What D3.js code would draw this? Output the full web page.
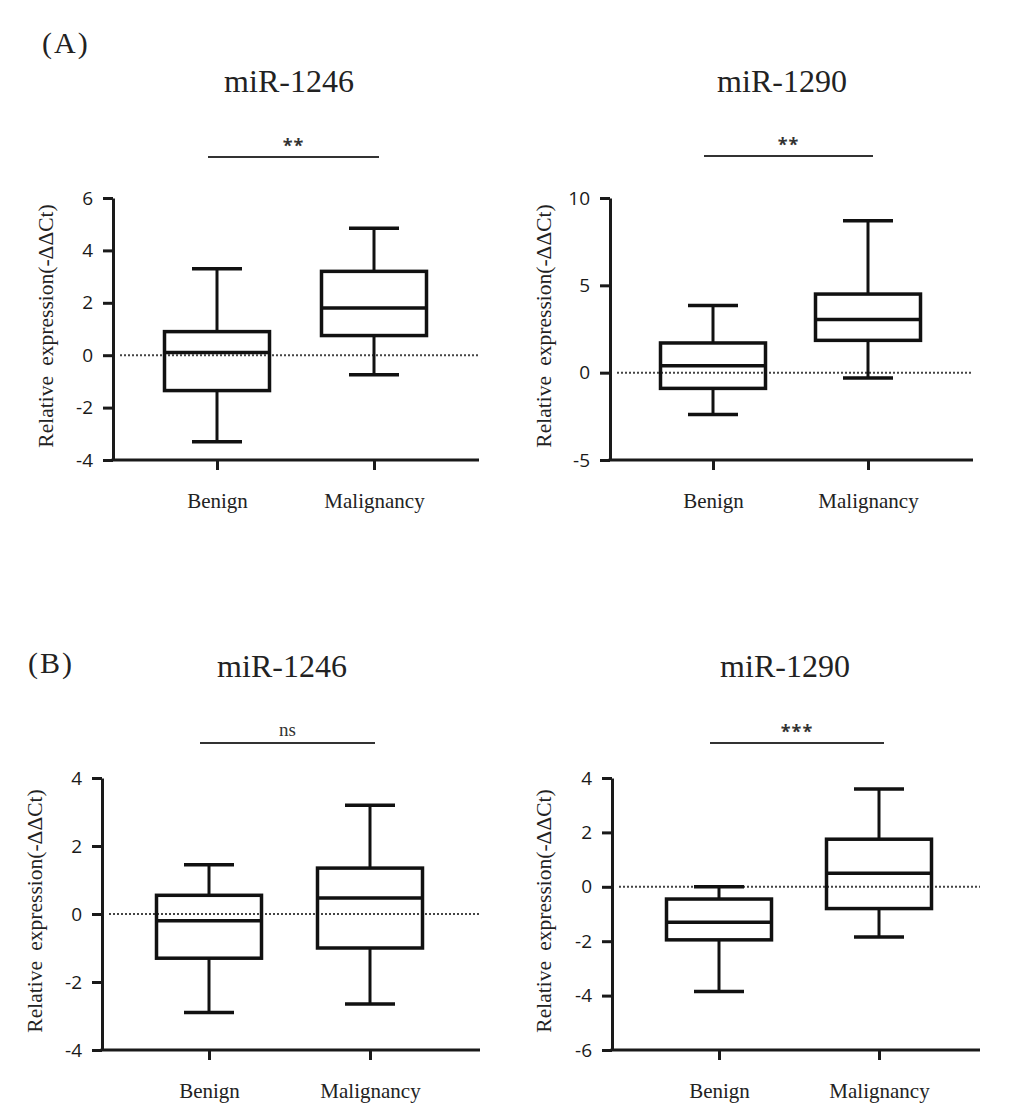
<!DOCTYPE html>
<html><head><meta charset="utf-8">
<script src="https://cdn.jsdelivr.net/npm/d3@7"></script>
<style>body{margin:0;background:#fff;} svg{display:block;}</style>
</head><body>
<script>
// ---- data ----
const groups = ["Benign", "Malignancy"];
const titles = ["miR-1246", "miR-1290", "miR-1246", "miR-1290"];
const signif = ["**", "**", "ns", "***"];
const panelLabels = ["(A)", "(B)"];
const yLabel = "Relative expression(-ΔΔCt)";
// box stats: [min, q1, median, q3, max]
const a1246Benign = [-3.3, -1.35, 0.1, 0.9, 3.3];
const a1246Malig  = [-0.75, 0.75, 1.8, 3.2, 4.85];
const a1290Benign = [-2.4, -0.9, 0.4, 1.7, 3.85];
const a1290Malig  = [-0.3, 1.85, 3.05, 4.5, 8.7];
const b1246Benign = [-2.9, -1.3, -0.2, 0.55, 1.45];
const b1246Malig  = [-2.65, -1.0, 0.47, 1.35, 3.2];
const b1290Benign = [-3.85, -1.95, -1.3, -0.45, 0.0];
const b1290Malig  = [-1.85, -0.8, 0.5, 1.75, 3.6];
// y axis ticks
const ticksA1246 = [-4, -2, 0, 2, 4, 6];
const ticksA1290 = [-5, 0, 5, 10];
const ticksB1246 = [-4, -2, 0, 2, 4];
const ticksB1290 = [-6, -4, -2, 0, 2, 4];

const W = 1014, H = 1113;
const svg = d3.select("body").append("svg").attr("width", W).attr("height", H);

const panels = [
  {stats:[a1246Benign,a1246Malig], ticks:ticksA1246, title:titles[0], sig:signif[0],
   ax:113, top:198, bot:460, xEnd:479, gx:[217,374], titleX:289, titleY:92, sigY:157, ylabX:46},
  {stats:[a1290Benign,a1290Malig], ticks:ticksA1290, title:titles[1], sig:signif[1],
   ax:610, top:198, bot:460, xEnd:973, gx:[713,868], titleX:782, titleY:92, sigY:156, ylabX:544},
  {stats:[b1246Benign,b1246Malig], ticks:ticksB1246, title:titles[2], sig:signif[2],
   ax:102, top:778, bot:1050, xEnd:480, gx:[209,370], titleX:282, titleY:677, sigY:743, ylabX:35},
  {stats:[b1290Benign,b1290Malig], ticks:ticksB1290, title:titles[3], sig:signif[3],
   ax:612, top:778, bot:1050, xEnd:980, gx:[719,879], titleX:785, titleY:677, sigY:743, ylabX:544}
];

const serif = "Liberation Serif, serif";
const sans = "Open Sans, sans-serif";

panels.forEach(p => {
  const ext = d3.extent(p.ticks);
  const y = d3.scaleLinear().domain(ext).range([p.bot, p.top]);
  const x = d3.scalePoint().domain(groups).range(p.gx);
  const g = svg.append("g");

  // zero dotted line
  g.append("line").attr("x1", p.ax + 7).attr("x2", p.xEnd)
    .attr("y1", y(0)).attr("y2", y(0))
    .attr("stroke", "#444").attr("stroke-width", 2).attr("stroke-dasharray", "2,2");

  // y axis
  const yAxis = d3.axisLeft(y).tickValues(p.ticks).tickSize(10).tickPadding(10).tickSizeOuter(0)
    .tickFormat(d => String(d));
  const ya = g.append("g").attr("transform", `translate(${p.ax},0)`).call(yAxis);
  ya.select(".domain").attr("stroke", "#1a1a1a").attr("stroke-width", 3);
  ya.selectAll(".tick line").attr("stroke", "#1a1a1a").attr("stroke-width", 3);
  ya.selectAll(".tick text").style("font-family", sans).style("font-size", "19px").attr("fill", "#1a1a1a");

  // x axis
  const xAxis = d3.axisBottom(x).tickSize(10).tickSizeOuter(0);
  const xa = g.append("g").attr("transform", `translate(0,${p.bot})`).call(xAxis);
  xa.select(".domain").attr("d", `M${p.ax - 1.5},0H${p.xEnd}`).attr("stroke", "#1a1a1a").attr("stroke-width", 3);
  xa.selectAll(".tick line").attr("stroke", "#1a1a1a").attr("stroke-width", 3);
  xa.selectAll(".tick text").style("font-family", serif).style("font-size", "21px").attr("fill", "#222")
    .attr("y", 48).attr("dy", 0);

  // boxes
  const bw = 105, cw = 50;
  groups.forEach((grp, i) => {
    const s = p.stats[i];
    const cx = x(grp);
    const bg = g.append("g").attr("stroke", "#111").attr("fill", "none");
    bg.append("line").attr("x1", cx).attr("x2", cx).attr("y1", y(s[4])).attr("y2", y(s[3])).attr("stroke-width", 3);
    bg.append("line").attr("x1", cx).attr("x2", cx).attr("y1", y(s[1])).attr("y2", y(s[0])).attr("stroke-width", 3);
    bg.append("line").attr("x1", cx - cw/2).attr("x2", cx + cw/2).attr("y1", y(s[4])).attr("y2", y(s[4])).attr("stroke-width", 3.5);
    bg.append("line").attr("x1", cx - cw/2).attr("x2", cx + cw/2).attr("y1", y(s[0])).attr("y2", y(s[0])).attr("stroke-width", 3.5);
    bg.append("rect").attr("x", cx - bw/2).attr("width", bw)
      .attr("y", y(s[3])).attr("height", y(s[1]) - y(s[3])).attr("stroke-width", 3.5);
    bg.append("line").attr("x1", cx - bw/2).attr("x2", cx + bw/2).attr("y1", y(s[2])).attr("y2", y(s[2])).attr("stroke-width", 3.5);
  });

  // significance bar
  const sx1 = x(groups[0]) - 9, sx2 = x(groups[1]) + 5;
  g.append("line").attr("x1", sx1).attr("x2", sx2).attr("y1", p.sigY).attr("y2", p.sigY)
    .attr("stroke", "#333").attr("stroke-width", 2);
  if (p.sig === "ns") {
    g.append("text").attr("x", (sx1 + sx2)/2).attr("y", p.sigY - 7).attr("text-anchor", "middle")
      .style("font-family", serif).style("font-size", "19px").attr("fill", "#333").text(p.sig);
  } else {
    g.append("text").attr("x", (sx1 + sx2)/2).attr("y", p.sigY - 5).attr("text-anchor", "middle")
      .style("font-family", sans).style("font-size", "18px").style("font-weight", "bold").attr("fill", "#333").attr("letter-spacing", 1).text(p.sig);
  }

  // title
  g.append("text").attr("x", p.titleX).attr("y", p.titleY).attr("text-anchor", "middle")
    .style("font-family", serif).style("font-size", "32px").attr("fill", "#222").text(p.title);

  // y label
  const cy = (p.top + p.bot) / 2 - 3;
  g.append("text").attr("transform", `translate(${p.ylabX + 7},${cy}) rotate(-90)`)
    .attr("text-anchor", "middle").style("font-family", serif).style("font-size", "21.5px")
    .style("word-spacing", "5px").attr("fill", "#222").text(yLabel);
});

// panel labels
svg.append("text").attr("x", 42).attr("y", 53).style("font-family", serif).style("font-size", "30px")
  .attr("fill", "#222").attr("letter-spacing", 2).text(panelLabels[0]);
svg.append("text").attr("x", 28).attr("y", 673).style("font-family", serif).style("font-size", "30px")
  .attr("fill", "#222").attr("letter-spacing", 2).text(panelLabels[1]);
</script>
</body></html>
